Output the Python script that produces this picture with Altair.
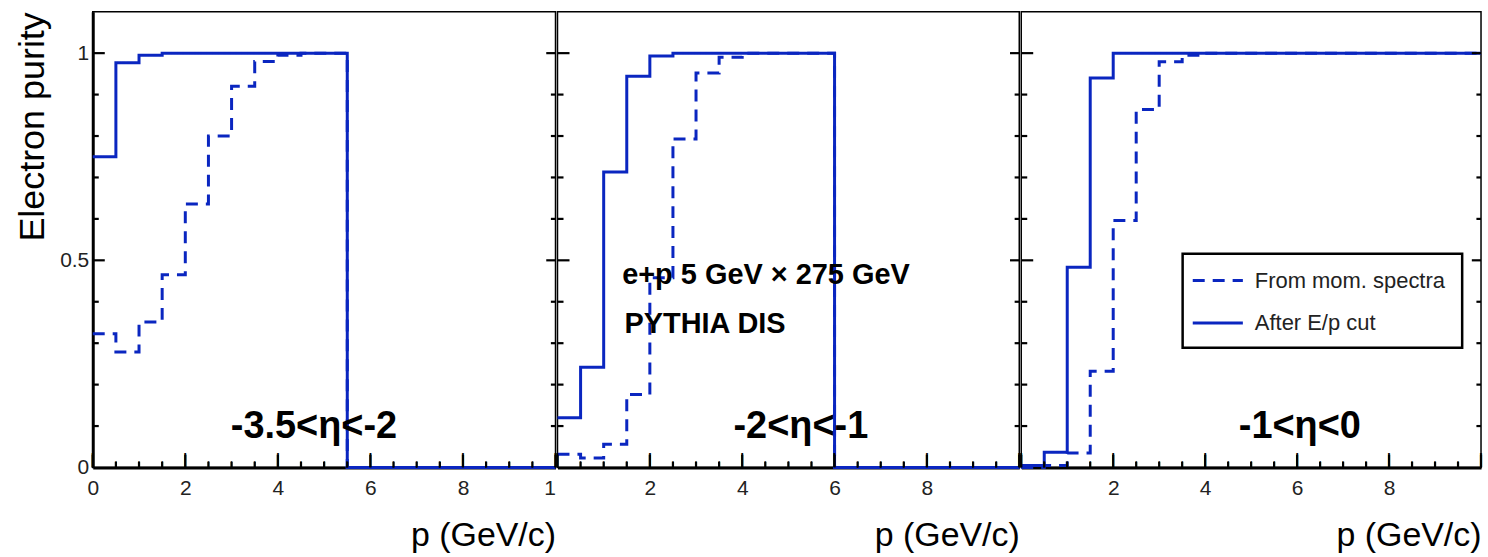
import altair as alt
import pandas as pd

# ---------------- data ----------------
BIN_LO = [0.0, 0.5, 1.0, 1.5, 2.0, 2.5, 3.0, 3.5, 4.0, 4.5,
          5.0, 5.5, 6.0, 6.5, 7.0, 7.5, 8.0, 8.5, 9.0, 9.5]
P_MAX = 10.0
SERIES = ["From mom. spectra", "After E/p cut"]

# panel 1 : -3.5 < eta < -2
P1_MOM = [0.323, 0.279, 0.351, 0.465, 0.636, 0.800, 0.920, 0.980, 0.995, 1.000,
          1.000, 0.0, 0.0, 0.0, 0.0, 0.0, 0.0, 0.0, 0.0, 0.0]
P1_CUT = [0.750, 0.977, 0.995, 1.000, 1.000, 1.000, 1.000, 1.000, 1.000, 1.000,
          1.000, 0.0, 0.0, 0.0, 0.0, 0.0, 0.0, 0.0, 0.0, 0.0]
# panel 2 : -2 < eta < -1
P2_MOM = [0.032, 0.023, 0.056, 0.176, 0.458, 0.793, 0.952, 0.990, 1.000, 1.000,
          1.000, 1.000, 0.0, 0.0, 0.0, 0.0, 0.0, 0.0, 0.0, 0.0]
P2_CUT = [0.120, 0.242, 0.713, 0.944, 0.993, 1.000, 1.000, 1.000, 1.000, 1.000,
          1.000, 1.000, 0.0, 0.0, 0.0, 0.0, 0.0, 0.0, 0.0, 0.0]
# panel 3 : -1 < eta < 0
P3_MOM = [0.000, 0.005, 0.035, 0.232, 0.596, 0.864, 0.979, 0.995, 1.000, 1.000,
          1.000, 1.000, 1.000, 1.000, 1.000, 1.000, 1.000, 1.000, 1.000, 1.000]
P3_CUT = [0.005, 0.037, 0.483, 0.940, 1.000, 1.000, 1.000, 1.000, 1.000, 1.000,
          1.000, 1.000, 1.000, 1.000, 1.000, 1.000, 1.000, 1.000, 1.000, 1.000]

X_MAJOR = [0.0, 2.0, 4.0, 6.0, 8.0, 10.0]
X_MINOR = [0.5, 1.0, 1.5, 2.5, 3.0, 3.5, 4.5, 5.0, 5.5, 6.5, 7.0, 7.5, 8.5, 9.0, 9.5]
Y_MAJOR = [0.5, 1.0]
Y_MINOR = [0.1, 0.2, 0.3, 0.4, 0.6, 0.7, 0.8, 0.9]
Y_LABELS = [0, 0.5, 1]

ETA_LABELS = ["-3.5<η<-2", "-2<η<-1", "-1<η<0"]
INFO_LABELS = ["e+p 5 GeV  ×  275 GeV", "PYTHIA DIS"]

# ---------------- style / placement ----------------
BLUE = "#0a26c0"
FONT = "Liberation Sans"
WIDTHS = [464, 463, 461]
H = 457
ETA_POS = [(4.78, 0.07), (5.27, 0.07), (6.06, 0.07)]
INFO_POS = [(1.40, 0.443), (1.45, 0.324)]
XT_MAJOR, XT_MINOR = 0.031, 0.014           # inside x tick lengths (y units)
XT_HALF_W = 0.024                           # half tick thickness (x units)
XT_GLYPH = {"major": 14, "minor": 7}        # font sizes of the bar glyph ticks
YT_MAJOR, YT_MINOR = 0.26, 0.13             # inside y tick lengths, left (x units)
YR_MAJOR, YR_MINOR = 0.20, 0.10             # inside y tick lengths, right (x units)
# legend box (panel 3, data units)
LEG_BOX = (3.51, 9.59, 0.289, 0.516)        # x0, x1, y0, y1
LEG_SYM = (3.73, 4.82)                       # symbol x0, x1
LEG_TXT_X = 5.08
LEG_ROWS = [0.451, 0.349]

xs = alt.Scale(domain=[0, 10], nice=False, zero=False)
ys = alt.Scale(domain=[0, 1.1], nice=False, zero=False)
cs = alt.Scale(domain=SERIES, range=[BLUE, BLUE])
ds = alt.Scale(domain=SERIES, range=[[12, 8], [1, 0]])


def x_axis(values, expr, w):
    return alt.Axis(values=values, labelExpr=expr, ticks=False, grid=False,
                    domainWidth=3, domainColor="black",
                    labelFont=FONT, labelFontSize=21, labelColor="#222",
                    labelPadding=10, labelFlush=False, labelOverlap=False,
                    labelAlign={"condition": {"test": "datum.value == 10", "value": "right"},
                                "value": "center"},
                    title="p (GeV/c)", titleFont=FONT, titleFontSize=34,
                    titleFontWeight="normal", titleColor="black",
                    titleAlign="right", titleAnchor="end", titleBaseline="alphabetic",
                    titleX=w, titleY=78)


Y_AXIS = alt.Axis(values=Y_LABELS, format="~g", ticks=False, grid=False,
                  domainWidth=3, domainColor="black",
                  labelFont=FONT, labelFontSize=21, labelColor="#222", labelPadding=4,
                  labelFlush=False, labelOverlap=False,
                  title="Electron purity", titleFont=FONT, titleFontSize=36,
                  titleFontWeight="normal", titleColor="black",
                  titleAngle=270, titleAlign="right", titleBaseline="alphabetic",
                  titleX=-49, titleY=0)


def panel(i, mom, cut, xaxis, yaxis, with_legend, w):
    rows = []
    for name, vals in zip(SERIES, [mom, cut]):
        for lo, v in zip(BIN_LO + [P_MAX], vals + [vals[-1]]):
            rows.append({"p": lo, "purity": v, "series": name})
    df = pd.DataFrame(rows)

    X = alt.X("p:Q", scale=xs, axis=xaxis)
    Y = alt.Y("purity:Q", scale=ys, axis=yaxis)
    col = alt.Color("series:N", scale=cs, legend=None)
    dash = alt.StrokeDash("series:N", scale=ds, legend=None)

    layers = []
    for name in SERIES:
        layers.append(
            alt.Chart(df).transform_filter(alt.datum.series == name)
            .mark_line(interpolate="step-after", strokeWidth=3, strokeCap="butt")
            .encode(x=X, y=Y, color=col, strokeDash=dash)
        )

    # x ticks (inside): thin rectangles standing on the bottom edge
    for vals, ln in [(X_MAJOR, XT_MAJOR), (X_MINOR, XT_MINOR)]:
        d = pd.DataFrame({"tick": vals})
        layers.append(
            alt.Chart(d)
            .transform_calculate(a=f"datum.tick - {XT_HALF_W}", b=f"datum.tick + {XT_HALF_W}",
                                 y0="0", y1=str(ln))
            .mark_rect(color="black")
            .encode(x=alt.X("a:Q", scale=xs, axis=xaxis), x2="b:Q",
                    y=alt.Y("y0:Q", scale=ys, axis=yaxis), y2="y1:Q"))
    # same ticks drawn again as bar glyphs standing on the bottom edge
    for vals, kind in [(X_MAJOR, "major"), (X_MINOR, "minor")]:
        d = pd.DataFrame({"p": vals, "purity": [0.0] * len(vals)})
        layers.append(alt.Chart(d).mark_text(text="|", font=FONT, fontWeight="bold",
                                             fontSize=XT_GLYPH[kind], color="black",
                                             align="center", baseline="bottom")
                      .encode(x=X, y=Y))

    # y ticks (inside, left and right)
    for vals, a, b in [(Y_MAJOR, 0.0, YT_MAJOR), (Y_MINOR, 0.0, YT_MINOR),
                       (Y_MAJOR, 10.0 - YR_MAJOR, 10.0), (Y_MINOR, 10.0 - YR_MINOR, 10.0)]:
        d = pd.DataFrame({"purity": vals, "t0": [a] * len(vals), "t1": [b] * len(vals)})
        layers.append(alt.Chart(d).mark_rule(color="black", strokeWidth=2.2)
                      .encode(y=Y, y2="purity:Q",
                              x=alt.X("t0:Q", scale=xs, axis=xaxis), x2="t1:Q"))

    # eta label
    ex, ey = ETA_POS[i]
    layers.append(alt.Chart(pd.DataFrame({"p": [ex], "purity": [ey], "label": [ETA_LABELS[i]]}))
                  .mark_text(font=FONT, fontSize=38, fontWeight="bold", align="center",
                             baseline="alphabetic", color="black")
                  .encode(x=X, y=Y, text="label:N"))
    if i == 1:
        for (tx, ty), lab in zip(INFO_POS, INFO_LABELS):
            layers.append(alt.Chart(pd.DataFrame({"p": [tx], "purity": [ty], "label": [lab]}))
                          .mark_text(font=FONT, fontSize=29, fontWeight="bold", align="left",
                                     baseline="alphabetic", color="black")
                          .encode(x=X, y=Y, text="label:N"))

    if with_legend:
        bx0, bx1, by0, by1 = LEG_BOX
        box = pd.DataFrame({"p": [bx0], "p2": [bx1], "purity": [by0], "purity2": [by1]})
        layers.append(alt.Chart(box).mark_rect(fill="white", stroke="black", strokeWidth=2.5)
                      .encode(x=X, x2="p2:Q", y=Y, y2="purity2:Q"))
        sym = pd.DataFrame({"series": SERIES, "p": [LEG_SYM[0]] * 2, "p2": [LEG_SYM[1]] * 2,
                            "purity": LEG_ROWS})
        layers.append(alt.Chart(sym).mark_rule(strokeWidth=3, strokeCap="butt")
                      .encode(x=X, x2="p2:Q", y=Y, y2="purity:Q", color=col, strokeDash=dash))
        lab = pd.DataFrame({"series": SERIES, "p": [LEG_TXT_X] * 2, "purity": LEG_ROWS})
        layers.append(alt.Chart(lab).mark_text(font=FONT, fontSize=22, color="#222",
                                               align="left", baseline="middle")
                      .encode(x=X, y=Y, text="series:N"))
    return alt.layer(*layers).properties(width=w, height=H)


p1 = panel(0, P1_MOM, P1_CUT,
           x_axis(X_MAJOR, "datum.value == 10 ? '1' : datum.label", WIDTHS[0]),
           Y_AXIS, False, WIDTHS[0])
p2 = panel(1, P2_MOM, P2_CUT, x_axis([2, 4, 6, 8], "datum.label", WIDTHS[1]),
           None, False, WIDTHS[1])
p3 = panel(2, P3_MOM, P3_CUT, x_axis([2, 4, 6, 8], "datum.label", WIDTHS[2]),
           None, True, WIDTHS[2])

chart = (
    alt.hconcat(p1, p2, p3, spacing=2, bounds="flush")
    .properties(padding={"left": 14, "top": 10, "right": 0, "bottom": 0}, background="white")
    .configure_view(stroke="black", strokeWidth=1.5)
)

chart.save("out.html", embed_options={"renderer": "svg", "actions": False})
